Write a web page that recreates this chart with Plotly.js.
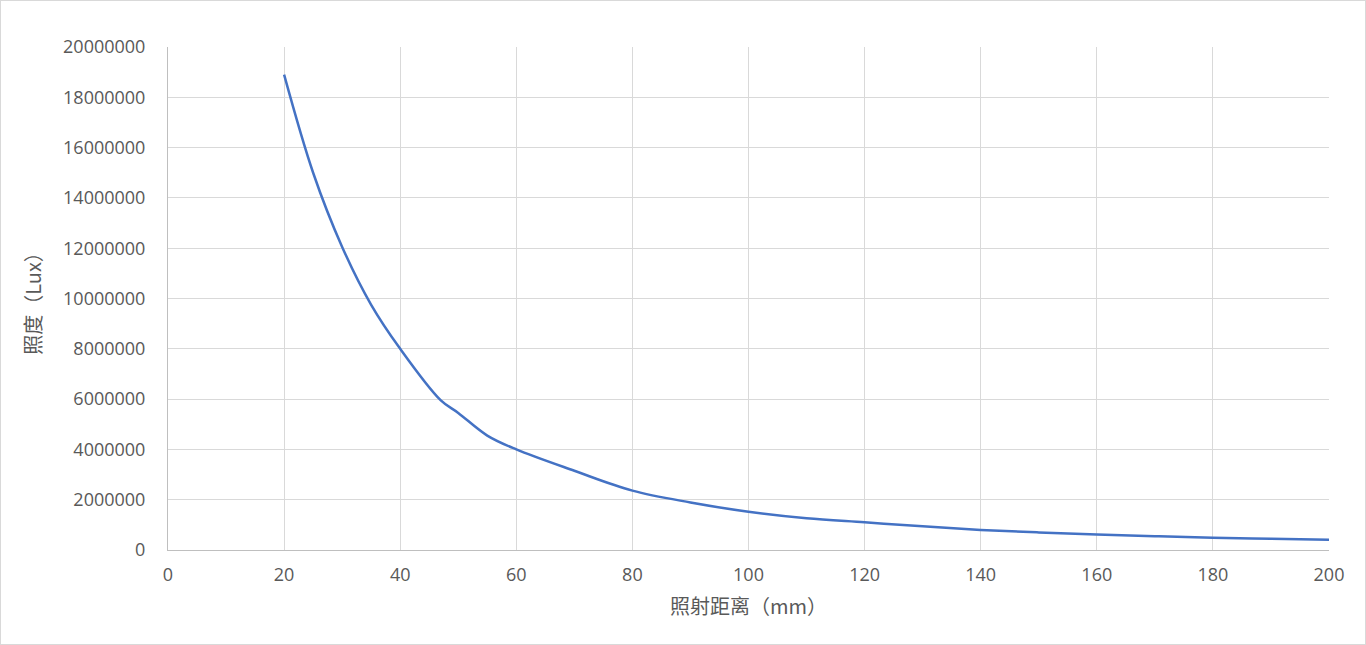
<!DOCTYPE html>
<html>
<head>
<meta charset="utf-8">
<script src="https://cdn.plot.ly/plotly-3.0.1.min.js"></script>
<style>
html,body{margin:0;padding:0;background:#fff;}
#chart{width:1366px;height:645px;box-sizing:border-box;border:1px solid #d9d9d9;}
</style>
</head>
<body>
<div id="chart"></div>
<script>
// Data
const distanceMm = [20, 25, 30, 35, 40, 47, 50, 55, 60, 70, 80, 90, 100, 110, 120, 130, 140, 150, 160, 170, 180, 190, 200];
const illuminanceLux = [18900000, 15000000, 12050000, 9750000, 8000000, 5950000, 5450000, 4550000, 4000000, 3150000, 2360000, 1890000, 1520000, 1260000, 1100000, 940000, 800000, 700000, 620000, 550000, 490000, 450000, 410000];
const xTitle = '照射距离（mm）';
const yTitle = '照度（Lux）';

const tickFont = {family: 'Open Sans, Liberation Sans, sans-serif', size: 18, color: '#595959'};
const titleFont = {family: 'Noto Sans CJK SC, sans-serif', size: 20, color: '#595959'};

Plotly.newPlot('chart', [{
  x: distanceMm,
  y: illuminanceLux,
  type: 'scatter',
  mode: 'lines',
  line: {color: '#4472C4', width: 2.5, shape: 'spline', smoothing: 1},
  hoverinfo: 'x+y'
}], {
  width: 1364,
  height: 643,
  margin: {l: 167, r: 36, t: 46, b: 94},
  paper_bgcolor: '#ffffff',
  plot_bgcolor: '#ffffff',
  showlegend: false,
  xaxis: {
    range: [0, 200],
    dtick: 20,
    tick0: 0,
    showgrid: true,
    gridcolor: '#d9d9d9',
    gridwidth: 1,
    zeroline: false,
    showline: true,
    linecolor: '#bfbfbf',
    linewidth: 1,
    ticks: '',
    tickfont: tickFont,
    ticklabelstandoff: 8,
    title: {text: xTitle, font: titleFont, standoff: 15}
  },
  yaxis: {
    range: [0, 20000000],
    dtick: 2000000,
    tick0: 0,
    tickformat: 'd',
    showgrid: true,
    gridcolor: '#d9d9d9',
    gridwidth: 1,
    zeroline: false,
    showline: true,
    linecolor: '#bfbfbf',
    linewidth: 1,
    ticks: '',
    tickfont: tickFont,
    ticklabelstandoff: 18,
    title: {text: yTitle, font: titleFont, standoff: 16}
  }
}, {displayModeBar: false, staticPlot: false});
</script>
</body>
</html>
